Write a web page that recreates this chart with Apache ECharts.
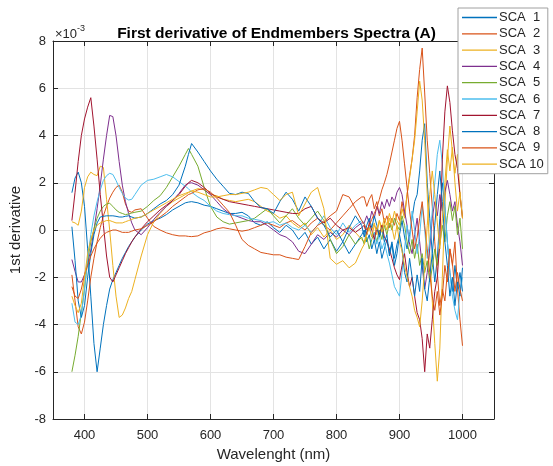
<!DOCTYPE html>
<html><head><meta charset="utf-8">
<script src="https://cdn.jsdelivr.net/npm/echarts@6/dist/echarts.min.js"></script>
<style>html,body{margin:0;padding:0;background:#fff}#c{width:553px;height:466px}</style>
</head><body><div id="c"></div>
<script>
const wavelength = [380,385,390,395,400,405,410,415,420,425,430,435,440,445,450,455,460,465,470,475,480,
490,500,510,520,530,540,550,560,565,570,580,590,600,610,620,630,640,650,660,670,680,690,700,710,720,730,740,750,760,770,780,790,800,810,820,830,840,
844,848,852,856,860,864,868,872,876,880,884,888,892,896,900,904,908,912,916,920,924,928,932,936,940,944,948,952,956,960,964,968,972,976,980,984,988,992,996,1000];

const sca1 = [1.58,2.2,2.45,2.0,1.0,-0.8,-2.8,-4.8,-6.0,-5.0,-4.0,-3.2,-2.5,-2.1,-1.8,-1.5,-1.2,-0.95,-0.7,-0.5,-0.3,
0.0,0.25,0.4,0.5,0.65,0.85,1.0,1.15,1.18,1.2,1.15,1.05,1.0,0.9,0.8,0.7,0.7,0.75,0.6,0.3,0.2,0.35,0.1,-0.1,0.2,0.0,-0.4,-0.1,-0.6,-0.3,-0.8,-0.4,-0.9,-0.5,-1.0,-0.6,-0.2,
0.0,-0.5,-0.2,-0.8,-0.4,-1.0,-0.5,-1.2,-0.8,-0.4,-1.0,-0.5,-1.2,-0.6,-0.2,0.4,-0.3,-0.8,-0.2,0.5,1.2,1.5,2.5,3.8,4.5,2.0,0.5,-1.0,-2.2,-1.2,0.5,2.0,1.0,-0.5,-1.8,-2.6,-1.5,-2.5,-1.8,-2.6];

const sca2 = [-1.9,-3.0,-4.1,-4.4,-3.9,-3.0,-2.0,-1.2,-0.5,0.1,0.6,1.0,1.35,1.6,1.8,1.9,1.6,1.1,0.8,0.75,0.85,
0.9,0.5,0.15,0.0,-0.12,-0.2,-0.25,-0.25,-0.27,-0.28,-0.25,-0.12,-0.05,0.05,0.1,0.05,0.0,-0.05,0.0,0.1,0.2,0.3,0.2,0.1,0.3,0.4,0.2,0.0,0.3,0.5,0.2,0.0,0.3,0.6,0.9,1.2,1.4,
1.4,1.0,1.3,1.5,0.9,1.2,0.6,0.9,0.3,0.6,0.1,0.5,0.2,0.7,0.4,1.2,0.6,1.5,2.3,3.0,4.0,5.6,6.8,7.7,5.8,3.8,2.4,1.0,-0.5,-1.8,-3.2,-2.5,-3.0,-1.8,-0.8,-1.5,-0.5,-2.5,-3.8,-4.9];

const sca3 = [0.35,0.3,0.2,0.8,1.8,2.25,2.45,2.35,2.3,2.7,2.65,1.3,0.0,-1.5,-2.8,-3.7,-3.6,-3.3,-2.9,-2.6,-2.1,
-1.1,-0.2,0.35,0.7,1.0,1.2,1.35,1.5,1.58,1.65,1.75,1.7,1.5,1.45,1.3,1.25,1.2,1.25,1.3,1.2,1.0,0.8,0.7,0.5,0.6,0.3,0.1,0.3,-0.2,0.1,-0.3,0.0,-0.4,-0.2,0.2,-0.1,-0.4,
-0.5,-0.1,0.2,0.0,0.3,-0.2,0.4,0.1,0.5,0.2,0.7,0.3,0.8,0.4,0.2,0.9,0.5,1.5,2.2,3.0,3.8,5.0,6.3,5.5,3.8,1.5,-1.0,-3.0,-4.8,-6.4,-5.0,-2.0,1.0,3.0,4.4,3.3,2.4,3.2,1.5,0.5];

const sca4 = [-1.25,-1.75,-2.2,-2.2,-1.9,-1.4,-0.85,0.0,0.9,1.9,3.0,4.0,4.85,4.8,4.0,2.9,1.9,1.2,0.7,0.3,0.0,
-0.2,0.1,0.45,0.75,1.0,1.25,1.55,1.9,1.98,2.0,1.9,1.7,1.5,1.2,0.9,0.7,0.6,0.5,0.4,0.35,0.35,0.2,0.0,-0.2,-0.3,-0.5,-0.9,-1.0,-0.6,-0.2,-0.4,-0.1,-0.3,0.0,-0.2,0.1,0.3,
0.3,0.6,0.3,0.8,0.5,1.0,0.7,1.2,0.9,1.3,1.0,1.4,1.2,1.6,1.8,1.5,0.8,0.2,-0.6,-1.0,-0.2,0.5,-0.5,-1.5,-2.5,-1.8,-0.8,0.5,1.2,0.6,1.5,0.8,1.6,2.1,1.5,0.8,1.2,0.2,-0.5,-1.5];

const sca5 = [-6.0,-5.3,-4.5,-3.5,-2.5,-1.3,-0.5,0.05,0.5,0.8,1.0,1.1,1.13,1.0,0.85,0.75,0.7,0.65,0.68,0.72,0.75,
0.8,1.0,1.25,1.45,1.8,2.25,2.7,3.2,3.45,3.2,2.7,1.8,1.0,0.55,0.35,0.25,0.3,0.35,0.4,0.5,0.7,0.9,0.6,0.3,0.6,0.9,0.5,0.2,0.5,0.8,0.4,-0.4,-1.0,-0.7,-0.2,-0.6,-0.3,
-0.6,-0.3,-0.8,-0.4,-0.1,-0.5,0.0,-0.4,0.2,-0.2,0.3,0.0,0.5,0.2,0.0,0.6,0.2,-0.5,-1.0,-0.4,-1.2,-0.6,-1.5,-1.0,-1.8,-1.3,-2.2,-1.6,-0.8,-1.5,-0.6,0.2,-0.5,0.6,1.2,0.4,1.0,-0.2,0.5,-0.8];

const sca6 = [-3.1,-3.9,-4.0,-3.6,-2.5,-1.2,-0.2,0.6,1.2,1.7,2.1,2.3,2.4,2.35,2.1,1.8,1.55,1.35,1.27,1.3,1.5,
1.9,2.1,2.15,2.25,2.35,2.25,2.05,1.85,1.75,1.6,1.4,1.25,1.0,0.8,0.7,0.65,0.6,0.6,0.5,0.45,0.4,0.3,0.35,0.2,0.3,0.1,0.0,0.2,-0.1,0.2,0.6,0.1,-0.2,0.3,-0.1,0.2,0.4,
0.3,-0.2,0.2,-0.3,-0.1,-0.6,-0.2,-0.8,-0.5,-1.0,-1.4,-1.9,-2.4,-2.6,-2.8,-1.8,-0.8,0.2,-0.5,0.8,0.0,-1.0,-0.2,1.0,0.0,-1.2,-0.5,0.8,2.0,3.2,3.8,2.8,1.0,-0.5,-1.8,-2.8,-3.4,-3.8,-2.6,-2.0];

const sca7 = [0.4,1.6,2.9,4.0,4.7,5.2,5.6,4.4,3.0,1.5,0.2,-1.1,-2.0,-2.2,-1.9,-1.6,-1.3,-1.0,-0.75,-0.5,-0.3,
0.05,0.35,0.6,0.85,1.05,1.25,1.5,1.85,2.0,2.1,2.0,1.8,1.55,1.4,1.3,1.2,1.15,1.1,1.05,1.0,0.95,0.9,0.85,0.8,0.75,0.7,0.7,0.9,1.0,0.5,0.3,0.5,0.2,0.0,0.1,-0.1,0.1,
0.2,-0.2,0.3,0.0,-0.4,0.1,-0.2,0.2,-0.3,-0.5,-0.8,-1.2,-1.6,-1.9,-2.1,-1.5,-1.0,-1.8,-2.4,-2.0,-2.8,-3.5,-3.8,-4.6,-6.0,-4.4,-5.0,-3.8,-2.6,-2.0,-0.5,3.0,5.0,6.1,5.4,4.2,3.2,2.6,1.5,0.5];

const sca8 = [0.14,-1.3,-3.0,-3.7,-3.2,-2.0,-1.0,-0.2,0.3,0.55,0.58,0.6,0.6,0.6,0.58,0.55,0.55,0.58,0.6,0.55,0.5,
0.55,0.7,0.9,1.1,1.25,1.5,1.9,2.7,3.2,3.66,3.3,2.9,2.5,2.15,1.85,1.55,1.5,1.6,1.55,1.2,0.95,0.9,0.7,1.2,1.6,1.3,0.8,1.4,1.0,0.5,0.2,-0.3,0.0,-0.5,0.1,0.6,0.2,
-0.3,0.2,0.5,0.1,0.6,0.2,-0.3,0.1,-0.5,-0.2,-1.1,-0.6,-1.5,-1.0,-0.2,-0.8,-1.8,-2.2,-1.2,-2.0,-2.8,-1.9,-2.6,-1.2,-2.5,-3.0,-2.0,-1.0,0.2,1.5,2.5,1.2,-0.5,-1.5,-2.8,-2.0,-3.2,-2.2,-2.8,-1.6];

const sca9 = [-2.4,-2.8,-2.9,-2.5,-1.9,-1.5,-1.1,-0.8,-0.55,-0.35,-0.2,-0.1,-0.05,0.0,0.0,-0.05,-0.1,-0.1,-0.1,-0.05,0.0,
0.05,0.2,0.35,0.55,0.75,1.0,1.2,1.4,1.5,1.55,1.7,1.75,1.6,1.35,1.05,0.75,0.2,-0.4,-0.65,-0.8,-0.95,-1.0,-1.05,-1.05,-1.15,-1.2,-1.25,-0.7,-0.1,0.2,0.35,0.6,0.8,1.5,1.4,0.9,0.4,
0.25,0.0,0.2,0.45,0.7,0.95,1.3,1.7,2.0,2.35,2.8,3.3,3.8,4.3,4.6,3.8,2.8,1.8,0.8,0.0,-0.8,-0.3,0.5,1.2,0.2,-0.8,-1.8,-2.8,-3.4,-2.6,-3.6,-2.8,-1.5,-2.2,-0.8,-1.4,-2.6,-1.8,-2.5,-3.0];

const sca10 = [-2.8,-3.2,-3.5,-3.1,-2.0,-1.0,-0.4,0.0,0.2,0.3,0.35,0.4,0.4,0.35,0.3,0.3,0.3,0.35,0.4,0.45,0.5,
0.55,0.7,0.85,1.0,1.15,1.3,1.45,1.55,1.6,1.65,1.6,1.5,1.4,1.4,1.45,1.5,1.5,1.55,1.6,1.7,1.8,1.75,1.5,1.25,1.5,1.6,0.6,1.1,1.6,1.8,0.9,-1.2,-1.45,-1.3,-1.6,-1.4,-0.8,
-0.6,-0.2,0.1,-0.3,0.2,0.0,0.4,-0.1,0.3,0.0,0.5,0.1,-0.4,0.2,-0.5,-0.9,-1.5,-2.0,-2.4,-2.8,-3.4,-3.7,-4.1,-3.0,-1.5,0.2,1.5,2.5,1.5,0.3,-0.8,0.5,2.0,3.4,2.5,3.5,2.0,0.8,1.6,0.5];

const seriesNames = ['SCA  1','SCA  2','SCA  3','SCA  4','SCA  5','SCA  6','SCA  7','SCA  8','SCA  9','SCA 10'];
const xTicks = [400,500,600,700,800,900,1000];
const yTicks = [-8,-6,-4,-2,0,2,4,6,8];
const colors = ['#0072BD','#D95319','#EDB120','#7E2F8E','#77AC30','#4DBEEE','#A2142F','#0072BD','#D95319','#EDB120'];

const allSeries = [sca1,sca2,sca3,sca4,sca5,sca6,sca7,sca8,sca9,sca10];
allSeries.forEach((s,i)=>{ if(s.length!==wavelength.length) throw new Error('len mismatch '+(i+1)+': '+s.length+' vs '+wavelength.length); });

const FONT = "'Liberation Sans', Arial, Helvetica, sans-serif";
const axisColor = '#262626';
const gridColor = '#e3e3e3';
const lineIcon = 'path://M0,0H70V2.6H0Z';

const chart = echarts.init(document.getElementById('c'), null, {renderer:'canvas'});
chart.setOption({
  animation: false,
  backgroundColor: '#fff',
  color: colors,
  title: {
    text: 'First derivative of Endmembers Spectra (A)',
    left: 'center', top: 21,
    textStyle: {fontFamily: FONT, fontSize: 15.5, fontWeight: 'bold', color: '#000'}
  },
  grid: {left: 53, right: 59, top: 41, bottom: 47, containLabel: false, outerBoundsMode: 'none'},
  legend: {
    orient: 'vertical', left: 458, top: 8,
    padding: [3, 4, 3, 4],
    itemWidth: 35, itemHeight: 14, itemGap: 3.3,
    backgroundColor: '#fff', borderColor: '#a0a0a0', borderWidth: 1,
    textStyle: {fontFamily: FONT, fontSize: 13, color: '#262626', padding: [0,0,0,-3]},
    data: seriesNames.map((n, i) => ({
      name: n, icon: lineIcon,
      itemStyle: {color: colors[i], borderWidth: 0, opacity: 1}
    })),
    z: 10
  },
  graphic: [
    {type: 'text', left: 55, top: 28, style: {text: '×10', font: '13px ' + FONT, fill: '#262626'}},
    {type: 'text', left: 77, top: 24, style: {text: '-3', font: '9px ' + FONT, fill: '#262626'}}
  ],
  xAxis: [{
    type: 'value', min: 350, max: 1050, position: 'bottom',
    name: 'Wavelenght (nm)', nameLocation: 'middle', nameGap: 28,
    nameTextStyle: {fontFamily: FONT, fontSize: 15, color: '#262626'},
    axisLine: {show: true, onZero: false, lineStyle: {color: axisColor, width: 1}},
    axisTick: {show: true, inside: true, length: 5, customValues: xTicks, lineStyle: {color: axisColor}},
    axisLabel: {show: true, customValues: xTicks, margin: 10, fontFamily: FONT, fontSize: 13, color: '#262626',
      formatter: v => String(v)},
    splitLine: {show: true, lineStyle: {color: gridColor, width: 1}}
  }, {
    type: 'value', min: 350, max: 1050, position: 'top',
    axisLine: {show: true, onZero: false, lineStyle: {color: axisColor, width: 1}},
    axisTick: {show: true, inside: true, length: 5, customValues: xTicks, lineStyle: {color: axisColor}},
    axisLabel: {show: false},
    splitLine: {show: false}
  }],
  yAxis: [{
    type: 'value', min: -8, max: 8, interval: 2, position: 'left',
    name: '1st derivative', nameLocation: 'middle', nameGap: 24,
    nameTextStyle: {fontFamily: FONT, fontSize: 15, color: '#262626'},
    axisLine: {show: true, onZero: false, lineStyle: {color: axisColor, width: 1}},
    axisTick: {show: true, inside: true, length: 5, lineStyle: {color: axisColor}},
    axisLabel: {show: true, margin: 7, fontFamily: FONT, fontSize: 13, color: '#262626',
      formatter: v => String(v)},
    splitLine: {show: true, lineStyle: {color: gridColor, width: 1}}
  }, {
    type: 'value', min: -8, max: 8, interval: 2, position: 'right',
    axisLine: {show: true, onZero: false, lineStyle: {color: axisColor, width: 1}},
    axisTick: {show: true, inside: true, length: 5, lineStyle: {color: axisColor}},
    axisLabel: {show: false},
    splitLine: {show: false}
  }],
  series: allSeries.map((arr, i) => ({
    name: seriesNames[i],
    type: 'line',
    xAxisIndex: 0, yAxisIndex: 0,
    symbol: 'none',
    showSymbol: false,
    lineStyle: {width: 1, color: colors[i]},
    itemStyle: {color: colors[i]},
    data: wavelength.map((w, k) => [w, arr[k]]),
    z: 2 + i * 0.01
  }))
});
</script>
</body></html>
